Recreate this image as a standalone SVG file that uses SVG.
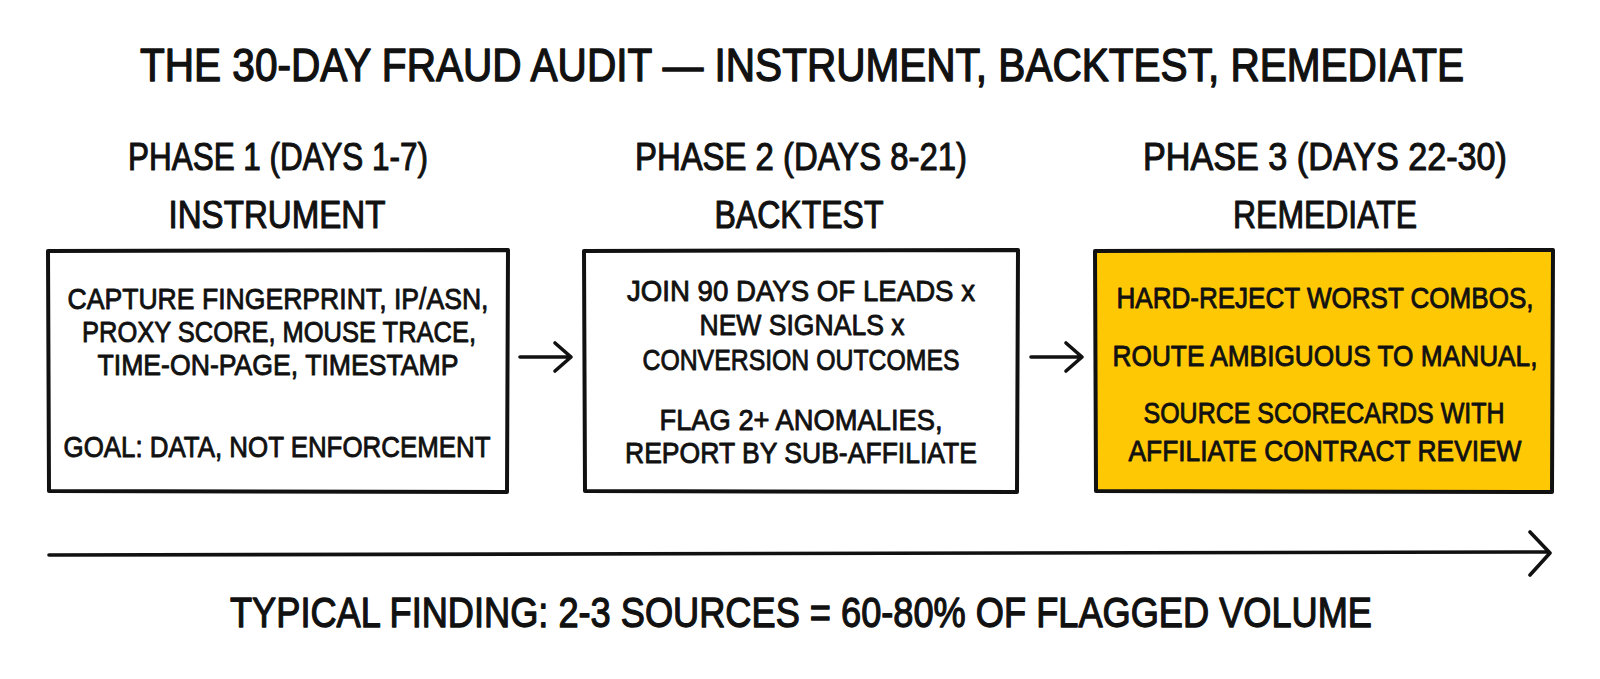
<svg xmlns="http://www.w3.org/2000/svg" width="1600" height="679" viewBox="0 0 1600 679">
<style>
text{font-family:"Liberation Sans",Arial,sans-serif;fill:#111;stroke:#111;stroke-linejoin:round;text-anchor:middle}
.title{font-size:47px;stroke-width:1.4}
.phase{font-size:38px;stroke-width:1.1}
.body{font-size:30px;stroke-width:0.9}
.foot{font-size:43px;stroke-width:1.3}
.box{stroke:#111;stroke-width:4;stroke-linejoin:round;stroke-linecap:round}
.conn{fill:none;stroke:#111;stroke-width:3.6;stroke-linecap:round;stroke-linejoin:round}
</style>
<rect width="1600" height="679" fill="#ffffff"/>
<text class="title" transform="translate(802 81) scale(0.8 1)" x="0" y="0" textLength="1655" lengthAdjust="spacingAndGlyphs">THE 30-DAY FRAUD AUDIT — INSTRUMENT, BACKTEST, REMEDIATE</text>

<g id="phase1">
<text class="phase" x="278" y="170" textLength="300" lengthAdjust="spacingAndGlyphs">PHASE 1 (DAYS 1-7)</text>
<text class="phase" x="277" y="228" textLength="217" lengthAdjust="spacingAndGlyphs">INSTRUMENT</text>
<path class="box" fill="#ffffff" d="M48 251 L508 250 L507 492 L49 491 Z"/>
<text class="body" x="278" y="309" textLength="421" lengthAdjust="spacingAndGlyphs">CAPTURE FINGERPRINT, IP/ASN,</text>
<text class="body" x="279" y="342" textLength="394" lengthAdjust="spacingAndGlyphs">PROXY SCORE, MOUSE TRACE,</text>
<text class="body" x="278" y="375" textLength="361" lengthAdjust="spacingAndGlyphs">TIME-ON-PAGE, TIMESTAMP</text>
<text class="body" x="277" y="457" textLength="427" lengthAdjust="spacingAndGlyphs">GOAL: DATA, NOT ENFORCEMENT</text>
</g>

<g id="phase2">
<text class="phase" x="801" y="170" textLength="332" lengthAdjust="spacingAndGlyphs">PHASE 2 (DAYS 8-21)</text>
<text class="phase" x="799" y="228" textLength="169" lengthAdjust="spacingAndGlyphs">BACKTEST</text>
<path class="box" fill="#ffffff" d="M584 251 L1018 250 L1017 492 L585 491 Z"/>
<text class="body" x="801" y="301" textLength="348" lengthAdjust="spacingAndGlyphs">JOIN 90 DAYS OF LEADS x</text>
<text class="body" x="802" y="335" textLength="205" lengthAdjust="spacingAndGlyphs">NEW SIGNALS x</text>
<text class="body" x="801" y="370" textLength="317" lengthAdjust="spacingAndGlyphs">CONVERSION OUTCOMES</text>
<text class="body" x="801" y="430" textLength="283" lengthAdjust="spacingAndGlyphs">FLAG 2+ ANOMALIES,</text>
<text class="body" x="801" y="463" textLength="352" lengthAdjust="spacingAndGlyphs">REPORT BY SUB-AFFILIATE</text>
</g>

<g id="phase3">
<text class="phase" x="1325" y="170" textLength="364" lengthAdjust="spacingAndGlyphs">PHASE 3 (DAYS 22-30)</text>
<text class="phase" x="1325" y="228" textLength="184" lengthAdjust="spacingAndGlyphs">REMEDIATE</text>
<path class="box" fill="#FFC805" d="M1095 251 L1553 250 L1552 492 L1096 491 Z"/>
<text class="body" x="1325" y="308" textLength="417" lengthAdjust="spacingAndGlyphs">HARD-REJECT WORST COMBOS,</text>
<text class="body" x="1325" y="366" textLength="425" lengthAdjust="spacingAndGlyphs">ROUTE AMBIGUOUS TO MANUAL,</text>
<text class="body" x="1324" y="423" textLength="361" lengthAdjust="spacingAndGlyphs">SOURCE SCORECARDS WITH</text>
<text class="body" x="1325" y="461" textLength="393" lengthAdjust="spacingAndGlyphs">AFFILIATE CONTRACT REVIEW</text>
</g>

<g id="connectors">
<path class="conn" d="M520 357 L571 357 M555 343 L571 357 L555 371"/>
<path class="conn" d="M1031 357 L1082 357 M1066 343 L1082 357 L1066 371"/>
<path class="conn" d="M49 555 L1549 552 M1530 532 L1550 553 L1530 575"/>
</g>

<text class="foot" x="801" y="627" textLength="1142" lengthAdjust="spacingAndGlyphs">TYPICAL FINDING: 2-3 SOURCES = 60-80% OF FLAGGED VOLUME</text>
</svg>
